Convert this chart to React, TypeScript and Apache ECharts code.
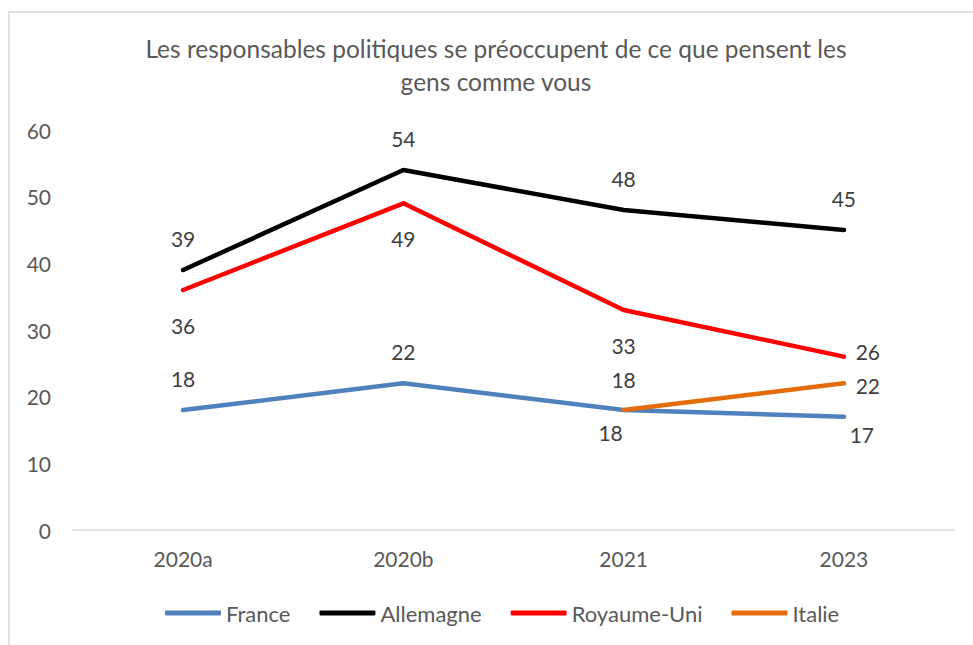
import React, { useEffect, useRef } from "react";
import * as echarts from "echarts";

const categories = ["2020a", "2020b", "2021", "2023"];
const france = [18, 22, 18, 17];
const allemagne = [39, 54, 48, 45];
const royaumeUni = [36, 49, 33, 26];
const italie: (number | null)[] = [null, null, 18, 22];
const seriesNames = ["France", "Allemagne", "Royaume-Uni", "Italie"];
const titleText = "Les responsables politiques se préoccupent de ce que pensent les\ngens comme vous";

// label offsets (presentation only)
const offFrance = [[0, -32], [0, -32], [0, -31], [18, 18]];
const offAllemagne = [[0, -32], [0, -32], [0, -32], [0, -32]];
const offRU = [[0, 35], [0, 35], [0, 35], [24, -5]];
const offItalie = [[0, 0], [0, 0], [-13, 22], [24, 2]];

const FONT = "Lato, 'Open Sans', sans-serif";

function mk(name: string, values: (number | null)[], color: string, offs: number[][]) {
  return {
    name,
    type: "line",
    data: values.map((v, i) => ({
      value: v,
      label: { offset: offs[i] },
    })),
    symbol: "circle",
    symbolSize: 4,
    showSymbol: true,
    itemStyle: { color },
    lineStyle: { color, width: 4.5, cap: "round", join: "round" },
    label: {
      show: true,
      position: "inside",
      color: "#404040",
      fontSize: 21,
      fontFamily: FONT,
    },
    emphasis: { disabled: true },
  };
}

export default function App() {
  const ref = useRef<HTMLDivElement>(null);
  useEffect(() => {
    if (!ref.current) return;
    const chart = echarts.init(ref.current, null, { renderer: "svg" });
    chart.setOption({
      animation: false,
      backgroundColor: "#ffffff",
      textStyle: { fontFamily: FONT },
      graphic: [
        {
          type: "rect",
          shape: { x: 9, y: 12, width: 1100, height: 1000 },
          style: { fill: "none", stroke: "#d9d9d9", lineWidth: 1.5 },
          silent: true,
        },
        {
          type: "text",
          x: 496,
          y: 32,
          style: {
            text: titleText,
            textAlign: "center",
            textVerticalAlign: "top",
            fill: "#595959",
            font: `24.5px ${FONT}`,
            lineHeight: 33,
          },
        },
      ],
      grid: { left: 73, right: 19, top: 130, bottom: 115, containLabel: false },
      legend: {
        data: seriesNames,
        left: 160,
        top: 597,
        icon: "roundRect",
        itemWidth: 56,
        itemHeight: 5,
        itemGap: 29,
        textStyle: { color: "#595959", fontSize: 22, fontFamily: FONT },
      },
      xAxis: {
        type: "category",
        data: categories,
        boundaryGap: true,
        axisLine: { show: true, lineStyle: { color: "#d9d9d9", width: 1.5 } },
        axisTick: { show: false },
        axisLabel: { color: "#595959", fontSize: 21, fontFamily: FONT, margin: 18 },
        splitLine: { show: false },
      },
      yAxis: {
        type: "value",
        min: 0,
        max: 60,
        interval: 10,
        axisLine: { show: false },
        axisTick: { show: false },
        axisLabel: { color: "#595959", fontSize: 21, fontFamily: FONT, margin: 22 },
        splitLine: { show: false },
      },
      series: [
        mk("France", france, "#4f81bd", offFrance),
        mk("Allemagne", allemagne, "#000000", offAllemagne),
        mk("Royaume-Uni", royaumeUni, "#ff0000", offRU),
        mk("Italie", italie, "#e46c0a", offItalie),
      ],
    });
    return () => chart.dispose();
  }, []);
  return (
    <div
      ref={ref}
      style={{ position: "absolute", left: 0, top: 0, width: 973, height: 645 }}
    />
  );
}
